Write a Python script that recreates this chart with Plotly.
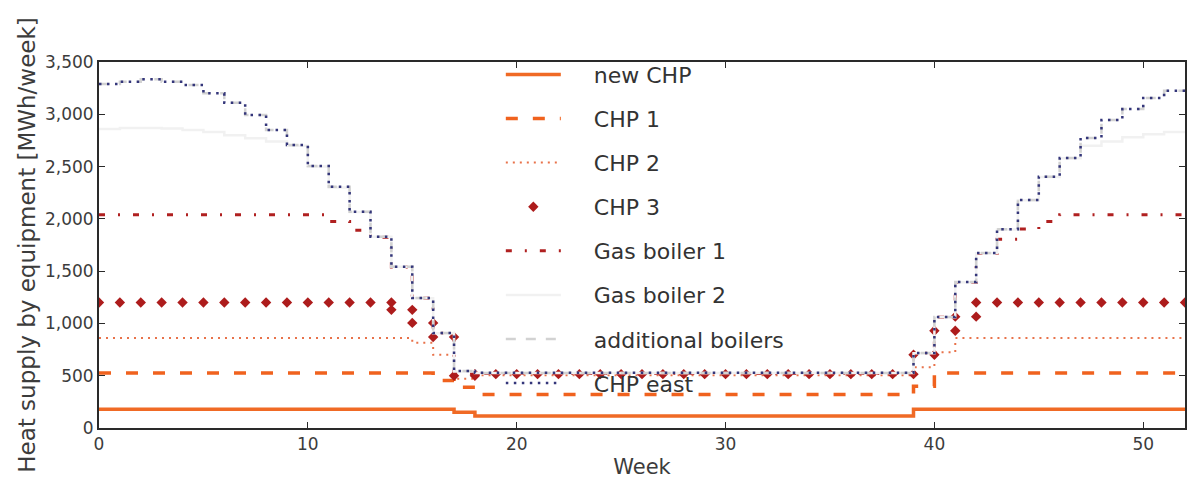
import plotly.graph_objects as go

# Weekly heat supply (cumulative by equipment), MWh/week, weeks 0..52
weeks = list(range(53))

new_chp = [
    180, 180, 180, 180, 180, 180, 180, 180, 180, 180, 180, 180, 180, 180, 180, 180, 180,
    150,
    115, 115, 115, 115, 115, 115, 115, 115, 115, 115, 115, 115, 115, 115, 115, 115, 115, 115, 115, 115, 115,
    180, 180, 180, 180, 180, 180, 180, 180, 180, 180, 180, 180, 180, 180,
]
chp_1 = [
    525, 525, 525, 525, 525, 525, 525, 525, 525, 525, 525, 525, 525, 525, 525, 525,
    455, 390,
    320, 320, 320, 320, 320, 320, 320, 320, 320, 320, 320, 320, 320, 320, 320, 320, 320, 320, 320, 320, 320,
    400,
    525, 525, 525, 525, 525, 525, 525, 525, 525, 525, 525, 525, 525,
]
chp_2 = [
    860, 860, 860, 860, 860, 860, 860, 860, 860, 860, 860, 860, 860, 860, 860,
    815, 700, 470,
    505, 505, 505, 505, 505, 505, 505, 505, 505, 505, 505, 505, 505, 505, 505, 505, 505, 505, 505, 505, 505,
    580, 725,
    860, 860, 860, 860, 860, 860, 860, 860, 860, 860, 860, 860,
]
chp_3 = [
    1200, 1200, 1200, 1200, 1200, 1200, 1200, 1200, 1200, 1200, 1200, 1200, 1200, 1200,
    1130, 1005, 870, 500,
    515, 515, 515, 515, 515, 515, 515, 515, 515, 515, 515, 515, 515, 515, 515, 515, 515, 515, 515, 515, 515,
    700, 930, 1065,
    1200, 1200, 1200, 1200, 1200, 1200, 1200, 1200, 1200, 1200, 1200,
]
gas_boiler_1 = [
    2040, 2040, 2040, 2040, 2040, 2040, 2040, 2040, 2040, 2040, 2040,
    1975, 1890, 1825, 1540, 1240, 905, 530,
    522, 522, 522, 522, 522, 522, 522, 522, 522, 522, 522, 522, 522, 522, 522, 522, 522, 522, 522, 522, 522,
    715, 1058, 1392, 1668, 1805, 1903, 1975,
    2040, 2040, 2040, 2040, 2040, 2040, 2040,
]
gas_boiler_2 = [
    2860, 2870, 2870, 2865, 2850, 2830, 2800, 2770, 2740, 2700,
    2500, 2300, 2065, 1828, 1541, 1241, 906, 540,
    525, 525, 525, 525, 525, 525, 525, 525, 525, 525, 525, 525, 525, 525, 525, 525, 525, 525, 525, 525, 525,
    716, 1060, 1394, 1670, 1898, 2178, 2400, 2580, 2700, 2740, 2780, 2810, 2830, 2840,
]
additional_boilers = [
    3290, 3312, 3335, 3312, 3280, 3200, 3110, 2993, 2850, 2706,
    2505, 2307, 2068, 1830, 1543, 1243, 908, 545,
    527, 527, 527, 527, 527, 527, 527, 527, 527, 527, 527, 527, 527, 527, 527, 527, 527, 527, 527, 527, 527,
    717, 1062, 1396, 1673, 1900, 2180, 2403, 2582, 2773, 2945, 3050, 3156, 3226, 3240,
]
chp_east = [
    3290, 3312, 3335, 3312, 3280, 3200, 3110, 2993, 2850, 2706,
    2505, 2307, 2068, 1830, 1543, 1243, 908, 545,
    528, 528, 528, 528, 528, 528, 528, 528, 528, 528, 528, 528, 528, 528, 528, 528, 528, 528, 528, 528, 528,
    717, 1062, 1396, 1673, 1900, 2180, 2403, 2582, 2773, 2945, 3050, 3156, 3226, 3240,
]

x_ticks = [0, 10, 20, 30, 40, 50]
y_ticks = [0, 500, 1000, 1500, 2000, 2500, 3000, 3500]

FONT = "DejaVu Sans"
TEXT = "#3c3c3c"
PAD = "\u00a0\u00a0\u00a0\u00a0"  # gap between legend symbol and label


def step_vertices(xs, ys):
    """Corner points of a post-step line, so markers sit on every corner."""
    vx, vy = [], []
    for i, (xv, yv) in enumerate(zip(xs, ys)):
        if i > 0 and ys[i - 1] != yv:
            vx.append(xv)
            vy.append(ys[i - 1])
        vx.append(xv)
        vy.append(yv)
    return vx, vy


fig = go.Figure()

line_series = [
    ("new CHP", new_chp, dict(color="#f06a25", width=3.5, dash="solid")),
    ("CHP 1", chp_1, dict(color="#f0621e", width=3.5, dash="12px,15px")),
    ("CHP 2", chp_2, dict(color="#e8724a", width=2, dash="2px,5px")),
]
for i, (name, ys, ln) in enumerate(line_series):
    fig.add_trace(go.Scatter(x=weeks, y=ys, name=PAD + name, mode="lines", line_shape="hv",
                             line=ln, legendgroup=f"g{i}"))

mx, my = step_vertices(weeks, chp_3)
fig.add_trace(go.Scatter(x=mx, y=my, name=PAD + "CHP 3", mode="markers",
                         marker=dict(symbol="diamond", size=8, color="#ad1c1c"),
                         legendgroup="g3"))

more_series = [
    ("Gas boiler 1", gas_boiler_1, dict(color="#b02020", width=3, dash="6px,13px,2px,13px")),
    ("Gas boiler 2", gas_boiler_2, dict(color="#f1f1f1", width=2.5, dash="solid")),
    ("additional boilers", additional_boilers, dict(color="#d2d2d2", width=2.5, dash="10px,10px")),
    ("CHP east", chp_east, dict(color="#34367a", width=2.5, dash="2.5px,5.5px")),
]
for j, (name, ys, ln) in enumerate(more_series):
    fig.add_trace(go.Scatter(x=weeks, y=ys, name=PAD + name, mode="lines", line_shape="hv",
                             line=ln, legendgroup=f"h{j}"))

axis_common = dict(
    showline=True, linecolor="#2a2a2a", linewidth=2, mirror="ticks",
    ticks="inside", ticklen=6, tickwidth=1, tickcolor="#2a2a2a",
    showgrid=False, zeroline=False,
    tickfont=dict(family=FONT, size=17, color=TEXT),
)

fig.update_layout(
    width=1190, height=482,
    margin=dict(l=99, r=3, t=62, b=54),
    paper_bgcolor="white", plot_bgcolor="white",
    font=dict(family=FONT, color=TEXT),
    xaxis=dict(range=[0, 52], tickvals=x_ticks, ticktext=[str(v) for v in x_ticks],
               title=dict(text="Week", font=dict(family=FONT, size=21, color=TEXT), standoff=6),
               **axis_common),
    yaxis=dict(range=[0, 3500], tickvals=y_ticks, tickformat=",",
               title=dict(text="Heat supply by equipment [MWh/week]",
                          font=dict(family=FONT, size=23, color=TEXT), standoff=3),
               **axis_common),
    legend=dict(x=0.37, y=0.064, xanchor="left", yanchor="bottom",
                bgcolor="rgba(0,0,0,0)", borderwidth=0,
                font=dict(family=FONT, size=22, color="#333333"),
                itemwidth=55, tracegroupgap=12.5, traceorder="grouped"),
    showlegend=True,
)

fig.write_html("out.html")
